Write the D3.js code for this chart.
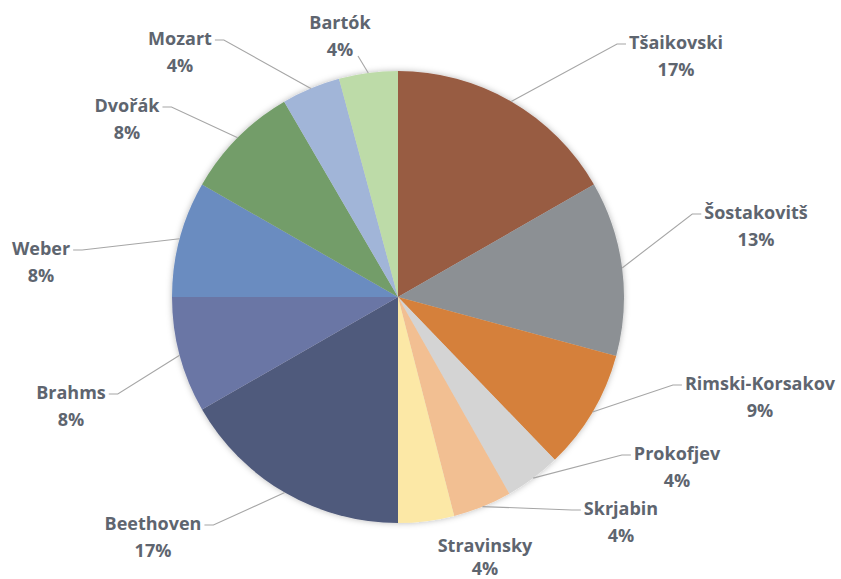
<!DOCTYPE html>
<html>
<head>
<meta charset="utf-8">
<script src="https://cdn.jsdelivr.net/npm/d3@7/dist/d3.min.js"></script>
<style>
  html, body { margin: 0; padding: 0; background: #ffffff; }
  svg { display: block; }
  text { font-family: "Open Sans", "Lato", sans-serif; font-weight: 700; }
</style>
</head>
<body>
<svg id="chart" width="841" height="579"></svg>
<script>
// ---- data ----
const composers = ["Tšaikovski", "Šostakovitš", "Rimski-Korsakov", "Prokofjev", "Skrjabin", "Stravinsky",
                   "Beethoven", "Brahms", "Weber", "Dvořák", "Mozart", "Bartók"];
const shares = [16.7, 12.5, 8.6, 4.0, 4.2, 4.0, 16.7, 8.3, 8.3, 8.3, 4.2, 4.2];
const colors = ["#985b43", "#8c9094", "#d5803a", "#d4d4d4", "#f2bf92", "#fce8a6",
                "#505a7b", "#6b76a5", "#6b8cc0", "#739d69", "#a1b5d8", "#bddba8"];

// ---- layout (label placement, not data) ----
const labelLayout = {
  "Tšaikovski":      { x: 676, y: 42,  side: "R" },
  "Šostakovitš":     { x: 756, y: 212, side: "R" },
  "Rimski-Korsakov": { x: 760, y: 383, side: "R" },
  "Prokofjev":       { x: 677, y: 453, side: "R" },
  "Skrjabin":        { x: 621, y: 508, side: "R" },
  "Stravinsky":      { x: 485, y: 545, side: "none" },
  "Beethoven":       { x: 153, y: 523, side: "L" },
  "Brahms":          { x: 71,  y: 392, side: "L" },
  "Weber":           { x: 41,  y: 248, side: "L" },
  "Dvořák":          { x: 127, y: 105, side: "L" },
  "Mozart":          { x: 180, y: 38,  side: "L" },
  "Bartók":          { x: 340, y: 22,  side: "below" }
};

const cx = 398, cy = 297, R = 226;
const svg = d3.select("#chart");

const defs = svg.append("defs");
const f = defs.append("filter").attr("id", "shadow").attr("x", "-10%").attr("y", "-10%").attr("width", "120%").attr("height", "120%");
f.append("feDropShadow").attr("dx", 0).attr("dy", 0).attr("stdDeviation", 3)
  .attr("flood-color", "#000").attr("flood-opacity", 0.28);

const data = composers.map((c, i) => ({ name: c, value: shares[i], color: colors[i] }));
const pie = d3.pie().sort(null).value(d => d.value);
const arcs = pie(data);
const arc = d3.arc().innerRadius(0).outerRadius(R);
const edgeArc = d3.arc().innerRadius(R).outerRadius(R);

const g = svg.append("g").attr("transform", `translate(${cx},${cy})`);
g.append("g").attr("filter", "url(#shadow)")
  .selectAll("path").data(arcs).join("path")
  .attr("d", arc)
  .attr("fill", d => d.data.color);

const fmt = v => Math.round(v) + "%";
const labels = svg.append("g");
const lines = svg.append("g");
const FS = 18;

arcs.forEach(a => {
  const L = labelLayout[a.data.name];
  const t1 = labels.append("text")
    .attr("x", L.x).attr("y", L.y)
    .attr("text-anchor", "middle").attr("dominant-baseline", "central")
    .attr("font-size", FS).attr("fill", "#5e656f")
    .text(a.data.name);
  labels.append("text")
    .attr("x", L.x).attr("y", Math.min(L.y + 27, 568))
    .attr("text-anchor", "middle").attr("dominant-baseline", "central")
    .attr("font-size", FS).attr("fill", "#5e656f")
    .text(fmt(a.data.value));
  const w = t1.node().getComputedTextLength();
  const [ex, ey] = edgeArc.centroid(a);
  const edge = [cx + ex, cy + ey];
  let pts = null;
  if (L.side === "R") {
    const left = L.x - w / 2;
    pts = [edge, [left - 12, L.y + 2], [left - 3, L.y + 2]];
  } else if (L.side === "L") {
    const right = L.x + w / 2;
    pts = [edge, [right + 12, L.y + 2], [right + 3, L.y + 2]];
  } else if (L.side === "below") {
    pts = [edge, [L.x + 18, L.y + 34]];
  }
  if (pts) {
    lines.append("path")
      .attr("d", d3.line()(pts))
      .attr("fill", "none")
      .attr("stroke", "#a6a6a6")
      .attr("stroke-width", 1.1);
  }
});
</script>
</body>
</html>
